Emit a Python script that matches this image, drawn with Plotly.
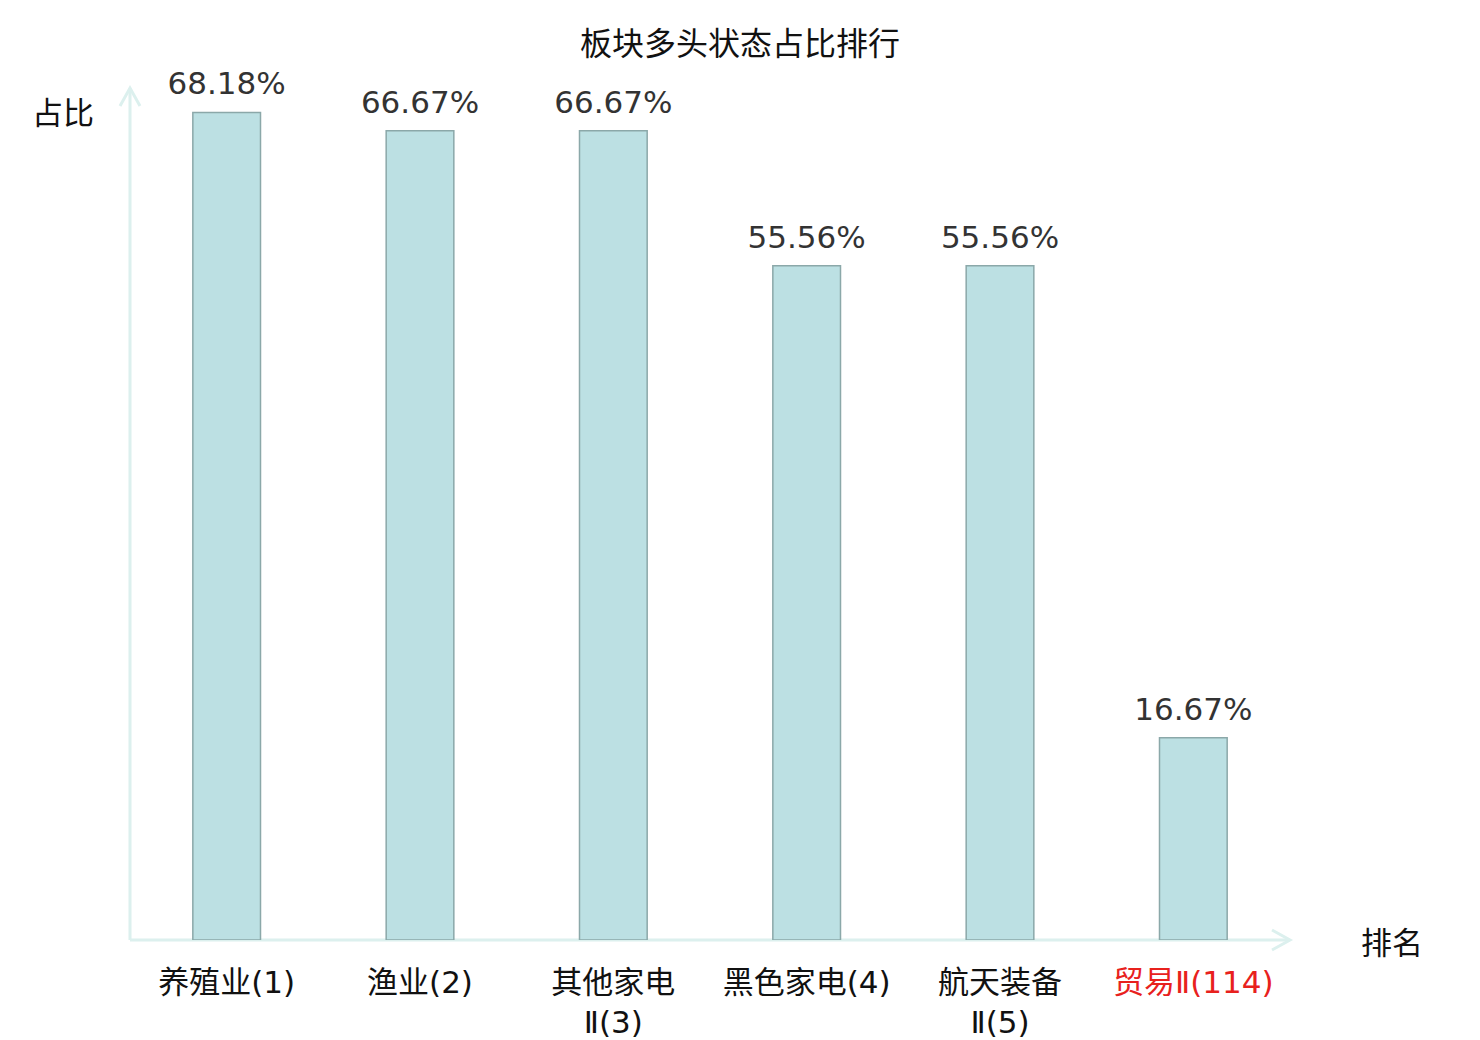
import plotly.graph_objects as go

# datos del gráfico
sectores = ["养殖业(1)", "渔业(2)", "其他家电<br>Ⅱ(3)", "黑色家电(4)", "航天装备<br>Ⅱ(5)",
            "<span style='color:#e8211d'>贸易Ⅱ(114)</span>"]
porcentajes = [68.18, 66.67, 66.67, 55.56, 55.56, 16.67]
etiquetas = ["68.18%", "66.67%", "66.67%", "55.56%", "55.56%", "16.67%"]

FUENTE_CJK = "Noto Sans CJK SC, DejaVu Sans"
FUENTE_NUM = "DejaVu Sans, Noto Sans CJK SC"
EJE = "#dcf0ee"
posiciones = list(range(len(porcentajes)))

fig = go.Figure()

fig.add_trace(go.Bar(
    x=posiciones,
    y=porcentajes,
    width=0.35,
    marker=dict(color="#bce0e3", line=dict(color="#8ba8a9", width=1.5)),
    hoverinfo="skip",
))

# etiquetas de valor encima de las barras
fig.add_trace(go.Scatter(
    x=posiciones,
    y=porcentajes,
    mode="markers+text",
    text=etiquetas,
    textposition="top center",
    marker=dict(size=15, opacity=0),
    textfont=dict(size=31, color="#333333", family=FUENTE_NUM),
    cliponaxis=False,
    hoverinfo="skip",
))

fig.update_layout(
    width=1480, height=1040,
    margin=dict(l=122, r=198, t=80, b=108),
    paper_bgcolor="white", plot_bgcolor="white",
    showlegend=False,
    title=dict(text="板块多头状态占比排行", x=0.4946, xanchor="center", y=0.966, yanchor="middle",
               font=dict(size=32, color="#111111", family=FUENTE_CJK)),
    xaxis=dict(
        range=[-0.5, 5.5],
        tickmode="array",
        tickvals=posiciones,
        ticktext=sectores,
        ticks="", showgrid=False, zeroline=False, showline=False,
        automargin=False,
        ticklabelstandoff=21,
        tickfont=dict(size=31, color="#111111", family=FUENTE_NUM),
    ),
    yaxis=dict(range=[0, 70.2], showticklabels=False, showgrid=False, zeroline=False,
               showline=False, ticks="", automargin=False),
    font=dict(family=FUENTE_CJK),
)

# ejes con flechas
fig.add_shape(type="line", xref="x domain", yref="y domain", x0=0, x1=1, y0=0, y1=0,
              line=dict(color=EJE, width=3), layer="below")
fig.add_shape(type="line", xref="x domain", yref="y domain", x0=0, x1=0, y0=0, y1=1,
              line=dict(color=EJE, width=3), layer="below")
fig.add_shape(type="path", xref="x domain", yref="y domain", xsizemode="pixel", ysizemode="pixel",
              xanchor=1, yanchor=0, path="M -18 10 L 0 0 L -18 -10",
              line=dict(color=EJE, width=3))
fig.add_shape(type="path", xref="x domain", yref="y domain", xsizemode="pixel", ysizemode="pixel",
              xanchor=0, yanchor=1, path="M -10 -18 L 0 0 L 10 -18",
              line=dict(color=EJE, width=3))

fig.add_annotation(text="占比", xref="paper", yref="paper", x=0, y=1.0, xanchor="center",
                   yanchor="middle", xshift=-67, yshift=-22, showarrow=False,
                   font=dict(size=31, color="#111111", family=FUENTE_CJK))
fig.add_annotation(text="排名", xref="paper", yref="paper", x=1.0, y=0, xanchor="center",
                   yanchor="middle", xshift=102, yshift=0, showarrow=False,
                   font=dict(size=31, color="#111111", family=FUENTE_CJK))

fig.write_html("out.html")
